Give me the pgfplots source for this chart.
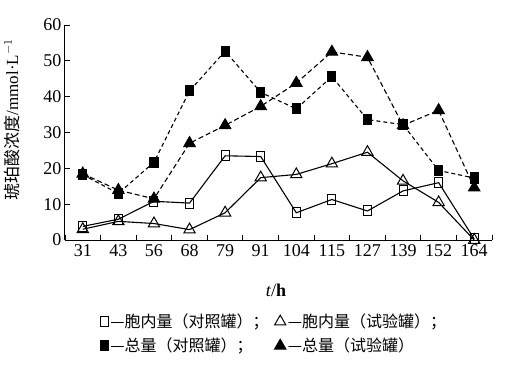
\documentclass[border=0pt]{standalone}
\usepackage{pgfplots}
\pgfplotsset{compat=1.18}
\usepackage{fontspec}
\setmainfont{Liberation Serif}
\newfontfamily\cjk{Noto Sans CJK SC}
\begin{document}
\begin{tikzpicture}
\useasboundingbox (-65pt,-129pt) rectangle (445pt,240pt);
\begin{axis}[
  scale only axis, width=427pt, height=215pt,
  xmin=-0.5, xmax=11.5, ymin=0, ymax=60,
  axis lines*=left,
  axis line style={line width=1pt},
  xtick={0,...,11},
  xticklabels={31,43,56,68,79,91,104,115,127,139,152,164},
  major x tick style={draw=none},
  minor xtick={-0.5,0.5,...,11.5},
  ytick={0,10,...,60},
  tick align=inside,
  major tick length=5pt, minor tick length=5pt,
  tick style={line width=0.9pt, black},
  /pgf/number format/assume math mode=true,
  ticklabel style={font=\fontsize{18}{20}\selectfont},
  xticklabel style={yshift=-1pt},
  xlabel={\textit{t}/\textbf{h}},
  xlabel style={at={(axis description cs:0.494,-0.19)}, anchor=north, font=\fontsize{18}{20}\selectfont},
  ylabel={{\cjk 琥珀酸浓度}/mmol·L$^{-1}$},
  ylabel style={at={(axis description cs:-0.125,0.56)}, anchor=center, font=\fontsize{17}{19}\selectfont},
  clip=false,
  legend columns=2,
  legend style={at={(axis description cs:0.49,-0.325)}, anchor=north, draw=none, fill=none,
    font=\cjk\fontsize{16}{18}\selectfont, row sep=5pt,
    /tikz/every even column/.append style={column sep=4pt}},
  legend cell align=left,
  legend image code/.code={\draw[mark repeat=2,mark phase=2,#1,only marks] plot coordinates {(0pt,0pt) (5pt,0pt) (10pt,0pt)};},
]
% open squares: intracellular, control
\addplot[black, line width=1.1pt, mark=square, mark size=5pt, mark options={xscale=0.8, fill=white, solid, line width=1pt}]
coordinates {(0,3.8) (1,5.8) (2,10.8) (3,10.3) (4,23.5) (5,23.3) (6,7.6) (7,11.3) (8,8.1) (9,13.7) (10,16.0) (11,0.3)};
\addlegendentry{—胞内量（对照罐）；}
% open triangles: intracellular, test
\addplot[black, line width=1.1pt, mark=triangle, mark size=6.5pt, mark options={fill=white, solid, line width=1pt}]
coordinates {(0,3.0) (1,5.2) (2,4.6) (3,2.9) (4,7.6) (5,17.4) (6,18.3) (7,21.3) (8,24.5) (9,16.5) (10,10.5) (11,0.0)};
\addlegendentry{—胞内量（试验罐）；}
% filled squares: total, control
\addplot[black, line width=1.1pt, dash pattern=on 4pt off 3pt, mark=square*, mark size=5pt, mark options={xscale=0.8, solid}]
coordinates {(0,18.2) (1,13.0) (2,21.7) (3,41.6) (4,52.7) (5,41.2) (6,36.6) (7,45.6) (8,33.6) (9,32.2) (10,19.4) (11,17.3)};
\addlegendentry{—总量（对照罐）；}
% filled triangles: total, test
\addplot[black, line width=1.1pt, dash pattern=on 5pt off 3pt, mark=triangle*, mark size=6.5pt, mark options={solid}]
coordinates {(0,18.5) (1,13.9) (2,11.5) (3,27.0) (4,32.0) (5,37.3) (6,43.8) (7,52.5) (8,51.0) (9,32.0) (10,36.2) (11,14.6)};
\addlegendentry{—总量（试验罐）}
\end{axis}
\end{tikzpicture}
\end{document}
